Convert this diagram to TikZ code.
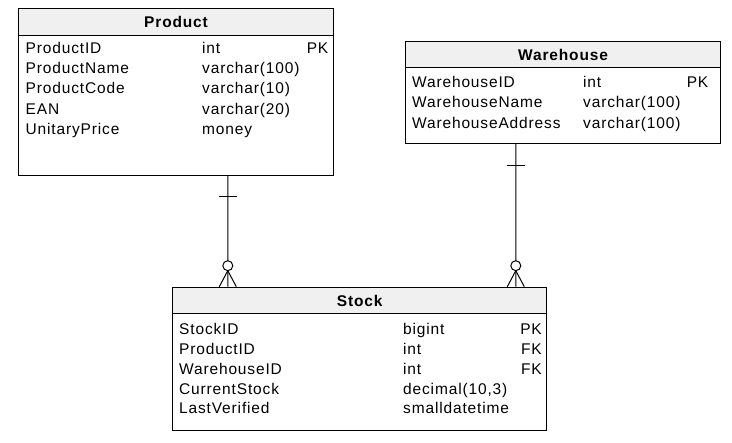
\documentclass[tikz,border=0pt]{standalone}
\usepackage{fontspec}
\setmainfont{Liberation Sans}[LetterSpace=5.5]
\usetikzlibrary{calc}
\definecolor{hdrgray}{RGB}{240,240,240}
\begin{document}
\begin{tikzpicture}[x=1pt,y=-1pt,
  every node/.style={font=\fontsize{15.5}{18}\selectfont},
  tbl/.style={draw=black, line width=1.1pt, inner sep=0pt, anchor=north west},
  hdr/.style={draw=black, line width=1.1pt, fill=hdrgray, inner sep=0pt, anchor=north west, font=\fontsize{15.5}{18}\selectfont\bfseries},
  fld/.style={anchor=base west, inner sep=0pt},
  key/.style={anchor=base east, inner sep=0pt},
  conn/.style={draw=black, line width=1pt},
  circ/.style={draw=black, line width=1pt, fill=white}]
\useasboundingbox[fill=white] (0,0) rectangle (732,443);

% Product
\node[tbl, minimum width=314.4pt, minimum height=167pt] (product) at (18.3,8) {};
\node[hdr, minimum width=314.4pt, minimum height=27.3pt] (producthdr) at (18.3,8) {Product};
\node[fld] (p1n) at (25.5,53.7) {ProductID};
\node[fld] (p1t) at (202,53.7) {int};
\node[key] (p1k) at (328.5,53.7) {PK};
\node[fld] (p2n) at (25.5,74) {ProductName};
\node[fld] (p2t) at (202,74) {varchar(100)};
\node[fld] (p3n) at (25.5,94) {ProductCode};
\node[fld] (p3t) at (202,94) {varchar(10)};
\node[fld] (p4n) at (25.5,114.2) {EAN};
\node[fld] (p4t) at (202,114.2) {varchar(20)};
\node[fld] (p5n) at (25.5,134.3) {UnitaryPrice};
\node[fld] (p5t) at (202,134.3) {money};

% Warehouse
\node[tbl, minimum width=315pt, minimum height=102pt] (warehouse) at (405,40.7) {};
\node[hdr, minimum width=315pt, minimum height=26.6pt] (warehousehdr) at (405,40.7) {Warehouse};
\node[fld] (w1n) at (412,87.4) {WarehouseID};
\node[fld] (w1t) at (583,87.4) {int};
\node[key] (w1k) at (708.5,87.4) {PK};
\node[fld] (w2n) at (412,108) {WarehouseName};
\node[fld] (w2t) at (583,108) {varchar(100)};
\node[fld] (w3n) at (412,128.4) {WarehouseAddress};
\node[fld] (w3t) at (583,128.4) {varchar(100)};

% Stock
\node[tbl, minimum width=373.7pt, minimum height=143.3pt] (stock) at (172.3,286.7) {};
\node[hdr, minimum width=373.7pt, minimum height=26.6pt] (stockhdr) at (172.3,286.7) {Stock};
\node[fld] (s1n) at (179,334.7) {StockID};
\node[fld] (s1t) at (403,334.7) {bigint};
\node[key] (s1k) at (542,334.7) {PK};
\node[fld] (s2n) at (179,354.5) {ProductID};
\node[fld] (s2t) at (403,354.5) {int};
\node[key] (s2k) at (542,354.5) {FK};
\node[fld] (s3n) at (179,374.3) {WarehouseID};
\node[fld] (s3t) at (403,374.3) {int};
\node[key] (s3k) at (542,374.3) {FK};
\node[fld] (s4n) at (179,394.1) {CurrentStock};
\node[fld] (s4t) at (403,394.1) {decimal(10,3)};
\node[fld] (s5n) at (179,413.9) {LastVerified};
\node[fld] (s5t) at (403,413.9) {smalldatetime};

% Connector Product - Stock
\coordinate (pa) at ([xshift=51.8pt]product.south);
\coordinate (sa) at ([xshift=-131.9pt]stock.north);
\draw[conn] (pa) -- (sa);
\draw[conn] ($(pa)+(-9.3,20.7)$) -- ($(pa)+(9.3,20.7)$);
\draw[conn] ($(sa)+(0,-16)$) -- ($(sa)+(-8.5,0)$);
\draw[conn] ($(sa)+(0,-16)$) -- ($(sa)+(8.5,0)$);
\draw[circ] ($(sa)+(0,-21)$) circle (5pt);

% Connector Warehouse - Stock
\coordinate (wa) at ([xshift=-47.2pt]warehouse.south);
\coordinate (sb) at ([xshift=156.1pt]stock.north);
\draw[conn] (wa) -- (sb);
\draw[conn] ($(wa)+(-9.2,21.3)$) -- ($(wa)+(9.2,21.3)$);
\draw[conn] ($(sb)+(0,-16)$) -- ($(sb)+(-8.5,0)$);
\draw[conn] ($(sb)+(0,-16)$) -- ($(sb)+(8.5,0)$);
\draw[circ] ($(sb)+(0,-21)$) circle (5pt);
\end{tikzpicture}
\end{document}
